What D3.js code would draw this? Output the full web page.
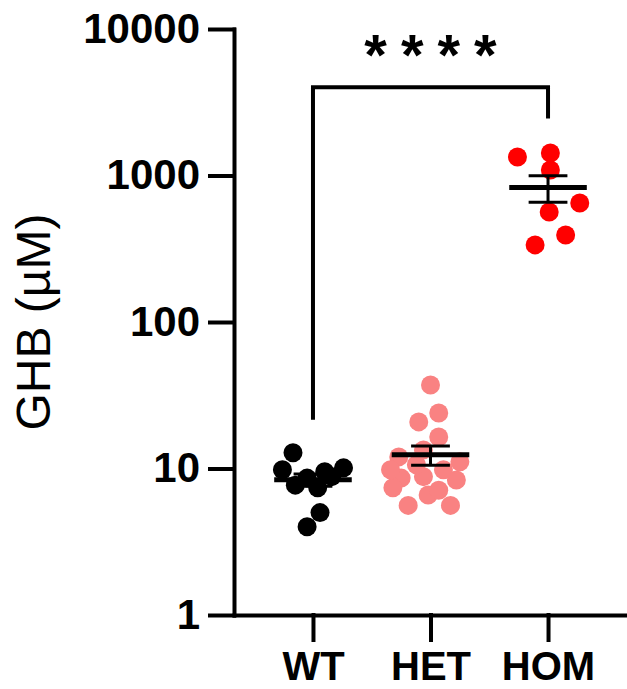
<!DOCTYPE html>
<html>
<head>
<meta charset="utf-8">
<script src="https://cdn.jsdelivr.net/npm/d3@7"></script>
<style>
  body { margin: 0; background: #fff; }
  svg text { font-family: "Liberation Sans", Arial, sans-serif; }
</style>
</head>
<body>
<svg width="627" height="689"></svg>
<script>
// groups and their colours
var groups = ["WT", "HET", "HOM"];
var colors = ["#000000", "#f98282", "#ff0000"];

// GHB values (uM)
var wt  = [12.8, 9.8, 10.1, 7.7, 8.6, 7.4, 8.8, 5.0, 4.0, 9.5];
var het = [37.2, 23.9, 20.8, 16.4, 12.0, 13.4, 8.6, 8.8, 8.35, 7.4, 9.8, 5.6, 5.6, 6.6, 10.6, 11.1, 7.1, 9.8];
var hom = [1337, 1425, 1091, 649, 563, 393, 336];

// horizontal scatter of each dot, in category units
var wtJitter  = [-0.17, -0.26, 0.26, -0.15, -0.05, 0.04, 0.16, 0.06, -0.05, 0.10];
var hetJitter = [0.0, 0.07, -0.10, 0.07, -0.27, -0.06, -0.25, -0.06, 0.22, -0.32, 0.11, -0.19, 0.17, -0.02, -0.12, 0.25, 0.07, -0.34];
var homJitter = [-0.26, 0.02, 0.02, 0.27, 0.01, 0.15, -0.11];

var yTicks = [1, 10, 100, 1000, 10000];

var values = [wt, het, hom];
var jitters = [wtJitter, hetJitter, homJitter];

var svg = d3.select("svg");

var x = d3.scaleLinear()
  .domain([-0.672, 2.672])
  .range([234, 627]);

var y = d3.scaleLog()
  .domain([1, 10000])
  .range([615, 29]);

// dots
values.forEach(function(vals, g) {
  svg.append("g")
    .selectAll("circle")
    .data(vals)
    .enter()
    .append("circle")
    .attr("cx", (d, i) => x(g + jitters[g][i]))
    .attr("cy", d => y(d))
    .attr("r", 9.5)
    .attr("fill", colors[g]);
});

// mean and SEM on top of the dots
values.forEach(function(vals, g) {
  var m = d3.mean(vals);
  var sem = d3.deviation(vals) / Math.sqrt(vals.length);
  var s = svg.append("g").attr("stroke", "#000");
  s.append("line")
    .attr("x1", x(g)).attr("x2", x(g))
    .attr("y1", y(m + sem)).attr("y2", y(m - sem))
    .attr("stroke-width", 3);
  [m + sem, m - sem].forEach(function(v) {
    s.append("line")
      .attr("x1", x(g - 0.165)).attr("x2", x(g + 0.165))
      .attr("y1", y(v)).attr("y2", y(v))
      .attr("stroke-width", 3);
  });
  s.append("line")
    .attr("x1", x(g - 0.33)).attr("x2", x(g + 0.33))
    .attr("y1", y(m)).attr("y2", y(m))
    .attr("stroke-width", 5);
});

// axes
var yAxis = d3.axisLeft(y)
  .tickValues(yTicks)
  .tickFormat(d3.format("d"))
  .tickSize(24)
  .tickSizeOuter(0)
  .tickPadding(10);

var xAxis = d3.axisBottom(x)
  .tickValues([0, 1, 2])
  .tickFormat(i => groups[i])
  .tickSize(25)
  .tickSizeOuter(0)
  .tickPadding(12);

svg.append("g")
  .attr("class", "xAxis")
  .attr("transform", "translate(0," + y(1) + ")")
  .call(xAxis);

svg.append("g")
  .attr("class", "yAxis")
  .attr("transform", "translate(" + x.range()[0] + ",0)")
  .call(yAxis);

svg.selectAll(".xAxis path, .xAxis line, .yAxis path, .yAxis line")
  .attr("stroke", "#000")
  .attr("stroke-width", 4)
  .attr("stroke-linecap", "square");

svg.selectAll(".xAxis text, .yAxis text")
  .attr("fill", "#000")
  .attr("font-size", "42px")
  .attr("font-weight", "bold")
  .attr("font-family", "Liberation Sans, Arial, sans-serif");

svg.selectAll(".xAxis text")
  .attr("font-size", "40px");

// y label
svg.append("text")
  .attr("transform", "translate(50," + y(100) + ")rotate(-90)")
  .attr("text-anchor", "middle")
  .attr("font-size", "48px")
  .text("GHB (µM)");

// significance bracket WT vs HOM
svg.append("path")
  .attr("d", "M" + x(0) + "," + y(21.5) + "V" + y(4000) + "H" + x(2) + "V" + y(2450))
  .attr("fill", "none")
  .attr("stroke", "#000")
  .attr("stroke-width", 4);

svg.append("text")
  .attr("x", x(1) + 7)
  .attr("y", 75)
  .attr("text-anchor", "middle")
  .attr("font-size", "58px")
  .attr("font-weight", "bold")
  .attr("letter-spacing", "14px")
  .text("****");
</script>
</body>
</html>
